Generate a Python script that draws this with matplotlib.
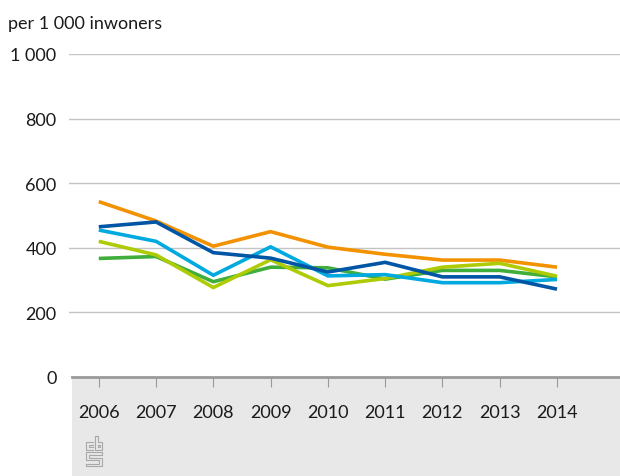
import matplotlib
matplotlib.use("Agg")
import matplotlib.pyplot as plt
from matplotlib.patches import Rectangle
from matplotlib.lines import Line2D

years = [2006, 2007, 2008, 2009, 2010, 2011, 2012, 2013, 2014]
orange = [543, 483, 405, 450, 402, 380, 362, 362, 340]
dark_blue = [465, 480, 385, 368, 325, 355, 310, 310, 272]
cyan = [455, 420, 315, 403, 313, 317, 292, 292, 302]
green = [367, 373, 295, 340, 338, 303, 330, 330, 310]
yellow_green = [420, 378, 277, 363, 283, 305, 340, 352, 312]

y_ticks = [0, 200, 400, 600, 800, 1000]
y_labels = ["0", "200", "400", "600", "800", "1 000"]
unit_label = "per 1 000 inwoners"

plt.rcParams['font.family'] = ['Lato', 'DejaVu Sans']
FS = 13

W, H = 620, 477
fig = plt.figure(figsize=(W / 100, H / 100), dpi=100)

def fx(x):
    return x / W

def fy(y):
    return 1 - y / H

# grey band below the axis
fig.patches.append(Rectangle((fx(72), 0), fx(620) - fx(72), fy(378), transform=fig.transFigure,
                             facecolor="#e8e8e8", edgecolor="none", zorder=-5))

ax = fig.add_axes([fx(69), fy(378), fx(620) - fx(69), fy(55) - fy(378)])
ax.set_facecolor("none")
ax.set_zorder(1)

series = [
    (orange, "#f39200"),
    (green, "#3fae3a"),
    (yellow_green, "#afcb05"),
    (cyan, "#00a9df"),
    (dark_blue, "#0055a5"),
]
for vals, col in series:
    ax.plot(years, vals, color=col, lw=2.6, solid_capstyle="butt", solid_joinstyle="miter", zorder=3)

ax.set_xlim(2005.48, 2015.1)
ax.set_ylim(0, 1000)
ax.set_yticks(y_ticks)
ax.set_yticklabels(y_labels)
ax.set_xticks(years)
ax.set_xticklabels([str(y) for y in years])

for s in ax.spines.values():
    s.set_visible(False)

ax.grid(axis="y", color="#c4c4c4", lw=1.0)
ax.tick_params(axis="y", length=0, pad=9, labelsize=FS, colors="#1a1a1a")
ax.tick_params(axis="x", direction="out", length=7.5, width=0.8, color="#9a9a9a",
               pad=12, labelsize=FS, labelcolor="#1a1a1a")

# baseline axis
fig.add_artist(Line2D([fx(72), fx(620)], [fy(378), fy(378)], transform=fig.transFigure,
                      color="#9a9a9a", lw=2.0, zorder=5))

fig.text(fx(8), fy(24), unit_label, fontsize=FS, color="#1a1a1a", va="center", ha="left")

# CBS logo (approximation)
lc = "#a8a8a8"
def seg(pts, lw=0.8):
    fig.add_artist(Line2D([fx(p[0]) for p in pts], [fy(p[1]) for p in pts],
                          transform=fig.transFigure, color=lc, lw=lw, zorder=6))

# "c"
seg([(93, 443), (86, 443), (86, 451), (93, 451)])
seg([(93, 446), (89, 446), (89, 448), (93, 448)])
# "b"
seg([(95, 437), (95, 451), (102, 451), (102, 443), (98, 443), (98, 437), (95, 437)])
seg([(98, 446), (99.5, 446), (99.5, 448), (98, 448), (98, 446)])
# "S"
seg([(102, 453), (86, 453), (86, 461), (99, 461), (99, 464.5), (86, 464.5), (86, 467), (102, 467),
     (102, 458.5), (89, 458.5), (89, 455.5), (102, 455.5), (102, 453)])

fig.savefig("out.png", dpi=100)
